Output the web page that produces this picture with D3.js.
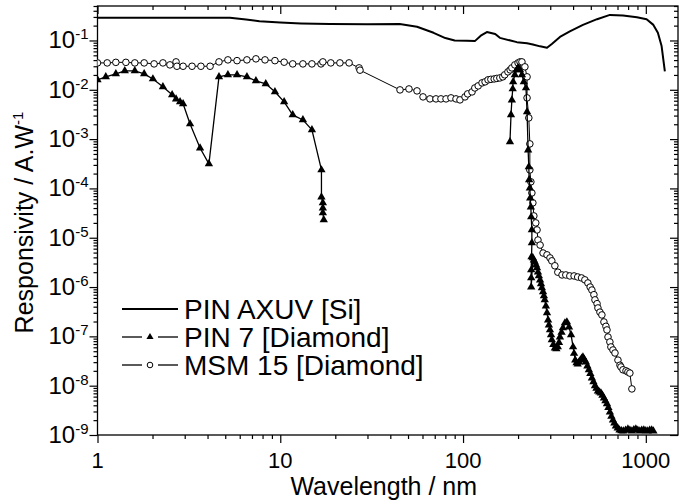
<!DOCTYPE html>
<html>
<head>
<meta charset="utf-8">
<script src="https://cdn.jsdelivr.net/npm/d3@7"></script>
<style>
  body { margin: 0; background: #fff; }
  svg { display: block; font-family: "Liberation Sans", Arial, Helvetica, sans-serif; }
</style>
</head>
<body>
<div id="chart"></div>
<script>
// PIN AXUV [Si] (solid line)
const axuvWl = [1, 2, 3, 4, 5.3, 6.5, 7.7, 10, 13, 18.7, 30, 45, 56, 69, 80, 90, 105, 116, 125, 135, 150, 159, 197, 224, 241, 264, 288, 306, 339, 384, 453, 541, 636, 750, 894, 1010, 1100, 1164, 1220, 1271];
const axuvR  = [0.29, 0.29, 0.29, 0.29, 0.29, 0.265, 0.245, 0.232, 0.222, 0.215, 0.213, 0.215, 0.19, 0.143, 0.112, 0.1, 0.099, 0.097, 0.125, 0.148, 0.135, 0.113, 0.0925, 0.088, 0.083, 0.076, 0.071, 0.085, 0.118, 0.153, 0.207, 0.27, 0.33, 0.32, 0.297, 0.27, 0.207, 0.143, 0.077, 0.0235];

// PIN 7 [Diamond] (triangles), soft x-ray segment
const pin7XrWl = [1.0, 1.11, 1.26, 1.41, 1.6, 1.8, 2.01, 2.28, 2.56, 2.69, 2.83, 2.94, 3.21, 3.64, 4.07, 4.62, 5.17, 5.8, 6.57, 7.36, 8.33, 9.35, 10.5, 11.7, 13.3, 14.9, 16.8, 16.8, 17.1, 17.1, 17.1, 17.3];
const pin7XrR  = [0.0159, 0.0183, 0.021, 0.0242, 0.0242, 0.021, 0.0166, 0.0115, 0.0079, 0.0065, 0.0057, 0.0052, 0.00203, 0.00066, 0.000314, 0.0183, 0.0201, 0.0201, 0.0183, 0.0152, 0.0132, 0.0091, 0.0057, 0.0031, 0.00245, 0.00154, 0.000237, 6.7e-5, 5.1e-5, 4.0e-5, 3.2e-5, 2.3e-5];

// PIN 7 [Diamond], UV-visible segment
const pin7UvWl = [180.6, 183, 185, 187, 188, 192, 197, 200, 205, 210, 215, 221, 224, 227, 229, 230, 232, 233, 235, 236, 238, 238, 237, 236, 236, 236,
  241, 244, 247, 251, 254, 257, 260, 264, 267, 270, 274, 277, 280, 284, 288, 292, 295, 299, 303, 306, 312, 318, 324, 330, 335, 339, 346, 352, 361, 370, 380, 390, 400, 405, 411, 418, 424, 431, 439, 446, 453, 461, 470, 479, 488, 497, 507, 517, 527, 537, 547, 557, 568, 579, 590, 601, 613, 624, 636, 648, 661, 673, 686, 702, 718, 735, 753, 775, 798, 818, 839, 860, 882, 904, 927, 950, 975, 1000, 1025, 1050, 1077, 1100];
const pin7UvR  = [8.8e-4, 3.1e-3, 6.2e-3, 0.0104, 0.0145, 0.0201, 0.0253, 0.0278, 0.0253, 0.0201, 0.0145, 0.0109, 3.56e-3, 6.0e-4, 2.73e-4, 1.49e-4, 1.02e-4, 6.4e-5, 4.2e-5, 2.64e-5, 1.44e-5, 7.85e-6, 4.1e-6, 2.22e-6, 1.53e-6, 1.0e-6,
  3.9e-6, 3.5e-6, 3.2e-6, 2.8e-6, 2.44e-6, 2.0e-6, 1.68e-6, 1.39e-6, 1.16e-6, 9.6e-7, 8.0e-7, 6.6e-7, 5.5e-7, 4.1e-7, 3.0e-7, 2.15e-7, 1.7e-7, 1.35e-7, 1.07e-7, 8.5e-8, 6.8e-8, 5.8e-8, 5.6e-8, 6.1e-8, 7.5e-8, 9.7e-8, 1.2e-7, 1.48e-7, 1.87e-7, 1.96e-7, 1.55e-7, 1.07e-7, 6.1e-8, 4.5e-8, 3.3e-8, 2.9e-8, 2.75e-8, 3.0e-8, 3.3e-8, 3.6e-8, 3.8e-8, 3.4e-8, 3.0e-8, 2.5e-8, 2.1e-8, 1.75e-8, 1.43e-8, 1.2e-8, 9.9e-9, 8.8e-9, 7.8e-9, 7.4e-9, 7.1e-9, 6.4e-9, 5.6e-9, 4.9e-9, 4.3e-9, 3.6e-9, 2.9e-9, 2.4e-9, 2.0e-9, 1.75e-9, 1.52e-9, 1.38e-9, 1.26e-9, 1.22e-9, 1.2e-9, 1.25e-9, 1.32e-9, 1.25e-9, 1.2e-9, 1.28e-9, 1.32e-9, 1.25e-9, 1.2e-9, 1.25e-9, 1.26e-9, 1.22e-9, 1.2e-9, 1.24e-9, 1.26e-9, 1.2e-9];

// MSM 15 [Diamond] (open circles)
const msmWl = [1.0, 1.13, 1.26, 1.43, 1.6, 1.8, 2.04, 2.28, 2.49, 2.69, 2.72, 2.94, 3.29, 3.68, 4.13, 4.62, 5.17, 5.8, 6.57, 7.36, 8.25, 9.35, 10.5, 11.7, 13.3, 14.9, 16.7, 17.1, 18.9, 21.2, 23.8, 27.0, 27.3,
  45.2, 50.6, 56.0, 60.4, 65.9, 71.1, 75.7, 80.7, 85.9, 91.5, 96.2, 102.5, 106, 112, 116, 121, 127, 132, 137, 142, 148, 153, 159, 165, 169, 176, 181, 185, 192, 200, 205, 210, 218, 224, 224, 229, 232, 232, 235, 238, 241, 244, 250, 254, 257, 264, 274, 288, 299, 306, 318, 330, 348, 365, 384, 405, 424, 445, 464, 482, 496, 507, 520, 527, 541, 547, 561, 575, 590, 605, 613, 621, 636, 644, 661, 678, 704, 722, 731, 750, 779, 798, 818, 839];
const msmR  = [0.0351, 0.0351, 0.036, 0.036, 0.0351, 0.0351, 0.0335, 0.0351, 0.032, 0.0368, 0.030, 0.030, 0.030, 0.030, 0.030, 0.0368, 0.0404, 0.039, 0.0404, 0.0424, 0.0404, 0.039, 0.0363, 0.0335, 0.0335, 0.0335, 0.0335, 0.0368, 0.0351, 0.0351, 0.0351, 0.0278, 0.025,
  0.00995, 0.0104, 0.0095, 0.00718, 0.00654, 0.00654, 0.00654, 0.00654, 0.00685, 0.00654, 0.00624, 0.00718, 0.00826, 0.00906, 0.0109, 0.012, 0.0138, 0.0145, 0.0159, 0.0163, 0.0166, 0.017, 0.0174, 0.0183, 0.0201, 0.0231, 0.0253, 0.0278, 0.032, 0.0351, 0.0368, 0.0368, 0.0292, 0.0183, 0.00685, 0.00269, 8.0e-4, 2.37e-4, 1.36e-4, 8.1e-5, 5.1e-5, 2.77e-5, 2.0e-5, 1.44e-5, 9.0e-6, 7.1e-6, 4.9e-6, 4.5e-6, 3.9e-6, 3.4e-6, 2.7e-6, 2.0e-6, 1.76e-6, 1.76e-6, 1.68e-6, 1.68e-6, 1.6e-6, 1.53e-6, 1.4e-6, 1.21e-6, 1.0e-6, 8.7e-7, 7.0e-7, 5.5e-7, 4.6e-7, 3.77e-7, 3.1e-7, 2.72e-7, 1.96e-7, 1.6e-7, 1.35e-7, 9.7e-8, 7.7e-8, 6.1e-8, 5.3e-8, 4.6e-8, 3.3e-8, 2.6e-8, 2.4e-8, 2.1e-8, 2.0e-8, 1.9e-8, 1.8e-8, 8.6e-9];

const xMajor = [1, 10, 100, 1000];
const yExps = [-1, -2, -3, -4, -5, -6, -7, -8, -9];
const legendLabels = ["PIN AXUV [Si]", "PIN 7 [Diamond]", "MSM 15 [Diamond]"];

const width = 679, height = 501;
const margin = { top: 6, right: 1, bottom: 66, left: 97.5 };

const svg = d3.select("#chart").append("svg")
  .attr("width", width)
  .attr("height", height);

const x = d3.scaleLog().domain([1, 1500]).range([margin.left, width - margin.right]);
const y = d3.scaleLog().domain([1e-9, 0.5]).range([height - margin.bottom, margin.top]);

const xMinor = [];
xMajor.forEach(d => { for (let k = 2; k <= 9; k++) if (d * k <= 1500) xMinor.push(d * k); });
const yMajor = yExps.map(e => Math.pow(10, e));
const yMinor = [];
yMajor.forEach(d => { for (let k = 2; k <= 9; k++) if (d * k <= 0.5) yMinor.push(d * k); });

const zip = (a, b) => a.map((v, i) => [v, b[i]]);

// clip
svg.append("clipPath").attr("id", "plotClip")
  .append("rect")
  .attr("x", margin.left).attr("y", margin.top)
  .attr("width", width - margin.right - margin.left)
  .attr("height", height - margin.bottom - margin.top);

// axes (ticks only; labels drawn separately)
const noLab = () => "";
const axisG = svg.append("g").attr("class", "axes");
const bottom = height - margin.bottom, right = width - margin.right;

const addAxis = (axis, tx, ty) => {
  const g = axisG.append("g").attr("transform", `translate(${tx},${ty})`).call(axis);
  g.select(".domain").remove();
  g.selectAll("line").attr("stroke", "#000").attr("stroke-width", 1.2);
  return g;
};
addAxis(d3.axisBottom(x).tickValues(xMajor).tickSize(8).tickFormat(noLab), 0, bottom);
addAxis(d3.axisBottom(x).tickValues(xMinor).tickSize(4).tickFormat(noLab), 0, bottom);
addAxis(d3.axisBottom(x).tickValues(xMajor).tickSize(8).tickFormat(noLab), 0, margin.top);
addAxis(d3.axisBottom(x).tickValues(xMinor).tickSize(4).tickFormat(noLab), 0, margin.top);
addAxis(d3.axisLeft(y).tickValues(yMajor).tickSize(8).tickFormat(noLab), margin.left, 0);
addAxis(d3.axisLeft(y).tickValues(yMinor).tickSize(4).tickFormat(noLab), margin.left, 0);
addAxis(d3.axisLeft(y).tickValues(yMajor).tickSize(8).tickFormat(noLab), right, 0);
addAxis(d3.axisLeft(y).tickValues(yMinor).tickSize(4).tickFormat(noLab), right, 0);

svg.append("rect")
  .attr("x", margin.left).attr("y", margin.top)
  .attr("width", right - margin.left).attr("height", bottom - margin.top)
  .attr("fill", "none").attr("stroke", "#000").attr("stroke-width", 1.3);

// x tick labels
svg.append("g").selectAll("text")
  .data(xMajor).enter().append("text")
  .attr("x", d => x(d))
  .attr("y", bottom + 33)
  .attr("text-anchor", "middle")
  .attr("font-size", 22)
  .text(d => d);

// y tick labels with superscript exponents
const yl = svg.append("g").selectAll("text")
  .data(yExps).enter().append("text")
  .attr("x", margin.left - 9)
  .attr("y", d => y(Math.pow(10, d)) + 8)
  .attr("text-anchor", "end")
  .attr("font-size", 24);
yl.append("tspan").text("10");
yl.append("tspan").attr("font-size", 15).attr("dy", -9).text(d => String(d));

// axis titles
svg.append("text")
  .attr("x", (margin.left + right) / 2 - 4)
  .attr("y", 495)
  .attr("text-anchor", "middle")
  .attr("font-size", 25)
  .text("Wavelength / nm");

const yt = svg.append("text")
  .attr("transform", `translate(33,${(margin.top + bottom) / 2 + 2}) rotate(-90)`)
  .attr("text-anchor", "middle")
  .attr("font-size", 25);
yt.append("tspan").text("Responsivity / A.W");
yt.append("tspan").attr("font-size", 15).attr("dy", -10).text("-1");

// series
const plot = svg.append("g").attr("clip-path", "url(#plotClip)");
const line = d3.line().x(d => x(d[0])).y(d => y(d[1]));

plot.append("path")
  .datum(zip(axuvWl, axuvR))
  .attr("fill", "none").attr("stroke", "#000").attr("stroke-width", 2)
  .attr("stroke-linejoin", "round")
  .attr("d", line);

const msmData = zip(msmWl, msmR);
plot.append("path")
  .datum(msmData)
  .attr("fill", "none").attr("stroke", "#000").attr("stroke-width", 1)
  .attr("d", line);
plot.append("g").selectAll("circle")
  .data(msmData).enter().append("circle")
  .attr("cx", d => x(d[0])).attr("cy", d => y(d[1]))
  .attr("r", 3.3)
  .attr("fill", "#fff").attr("stroke", "#000").attr("stroke-width", 1);

const tri = d3.symbol().type(d3.symbolTriangle).size(30);
[zip(pin7XrWl, pin7XrR), zip(pin7UvWl, pin7UvR)].forEach(seg => {
  plot.append("path")
    .datum(seg)
    .attr("fill", "none").attr("stroke", "#000").attr("stroke-width", 1.3)
    .attr("d", line);
  plot.append("g").selectAll("path")
    .data(seg).enter().append("path")
    .attr("transform", d => `translate(${x(d[0])},${y(d[1])})`)
    .attr("d", tri)
    .attr("fill", "#000");
});

// legend
const lg = svg.append("g").attr("class", "legend");
const rowY = [309, 337, 365];
legendLabels.forEach((lab, i) => {
  const cy = rowY[i];
  if (i === 0) {
    lg.append("line").attr("x1", 122).attr("x2", 178).attr("y1", cy).attr("y2", cy)
      .attr("stroke", "#000").attr("stroke-width", 2);
  } else {
    lg.append("line").attr("x1", 122).attr("x2", 142).attr("y1", cy).attr("y2", cy)
      .attr("stroke", "#000").attr("stroke-width", 1.3);
    lg.append("line").attr("x1", 158).attr("x2", 178).attr("y1", cy).attr("y2", cy)
      .attr("stroke", "#000").attr("stroke-width", 1.3);
    if (i === 1) {
      lg.append("path").attr("transform", `translate(150,${cy})`)
        .attr("d", d3.symbol().type(d3.symbolTriangle).size(22)).attr("fill", "#000");
    } else {
      lg.append("circle").attr("cx", 150).attr("cy", cy).attr("r", 2.8)
        .attr("fill", "#fff").attr("stroke", "#000").attr("stroke-width", 1);
    }
  }
  lg.append("text")
    .attr("x", 184).attr("y", cy + 9.5)
    .attr("font-size", 28)
    .text(lab);
});
</script>
</body>
</html>
